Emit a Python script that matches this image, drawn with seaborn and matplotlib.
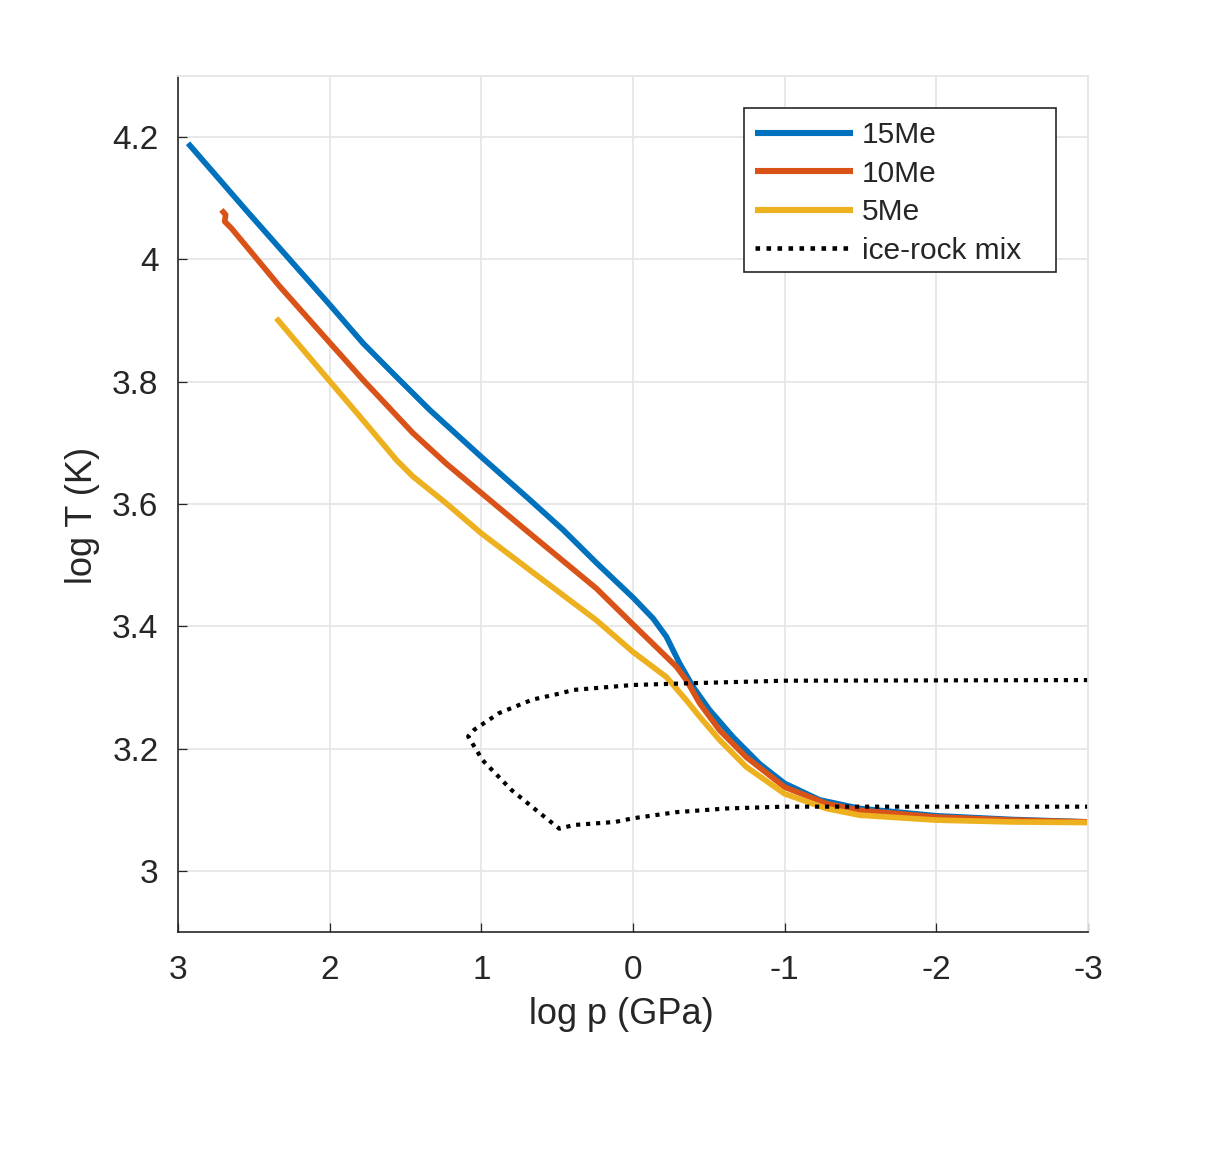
import numpy as np
import pandas as pd
import matplotlib
matplotlib.use('Agg')
import matplotlib.pyplot as plt
from matplotlib.patches import Rectangle
from matplotlib.ticker import FuncFormatter
import seaborn as sns

# curves (log p in GPa, log T in K)
p_15 = [2.934, 2.549, 2.0, 1.78, 1.56, 1.341, 1.0, 0.681, 0.462, 0.242, 0.0, -0.132,
        -0.22, -0.308, -0.396, -0.505, -0.659, -0.835, -1.0, -1.231, -1.495, -2.0,
        -2.5, -3.0]
T_15 = [4.190, 4.080, 3.926, 3.863, 3.808, 3.754, 3.677, 3.607, 3.558, 3.504, 3.447,
        3.413, 3.383, 3.339, 3.301, 3.263, 3.219, 3.175, 3.143, 3.116, 3.102, 3.090,
        3.084, 3.080]

p_10 = [2.714, 2.686, 2.692, 2.648, 2.33, 2.0, 1.78, 1.451, 1.231, 1.0, 0.681, 0.242,
        0.0, -0.22, -0.286, -0.352, -0.44, -0.571, -0.747, -1.0, -1.275, -1.495, -2.0,
        -2.5, -3.0]
T_10 = [4.081, 4.073, 4.062, 4.051, 3.956, 3.864, 3.803, 3.716, 3.666, 3.618, 3.552,
        3.462, 3.403, 3.350, 3.334, 3.312, 3.274, 3.230, 3.186, 3.137, 3.110, 3.099,
        3.088, 3.083, 3.080]

p_5 = [2.352, 2.0, 1.78, 1.56, 1.451, 1.231, 1.0, 0.681, 0.242, 0.0, -0.22, -0.352,
       -0.44, -0.571, -0.747, -1.0, -1.275, -1.495, -2.0, -2.5, -3.0]
T_5 = [3.904, 3.801, 3.737, 3.672, 3.645, 3.601, 3.552, 3.492, 3.410, 3.358, 3.317,
       3.279, 3.252, 3.214, 3.170, 3.126, 3.102, 3.091, 3.083, 3.080, 3.079]

p_mix = [-3.0, -1.0, -0.396, 0.0, 0.39, 0.484, 0.664, 0.883, 1.046, 1.087, 0.992,
         0.80, 0.637, 0.486, 0.39, 0.117, 0.0, -0.286, -0.615, -1.0, -3.0]
T_mix = [3.312, 3.311, 3.307, 3.304, 3.296, 3.290, 3.280, 3.258, 3.231, 3.220, 3.181,
         3.132, 3.099, 3.069, 3.075, 3.080, 3.086, 3.096, 3.102, 3.105, 3.105]

x_ticks = [3, 2, 1, 0, -1, -2, -3]
y_ticks = [3.0, 3.2, 3.4, 3.6, 3.8, 4.0, 4.2]

sns.set_style('whitegrid', {'grid.color': '#e6e6e6', 'axes.edgecolor': '#262626'})
plt.rcParams['font.family'] = ['Liberation Sans', 'DejaVu Sans']
plt.rcParams['axes.unicode_minus'] = False
plt.rcParams['text.color'] = '#262626'
plt.rcParams['axes.labelcolor'] = '#262626'
plt.rcParams['xtick.color'] = '#262626'
plt.rcParams['ytick.color'] = '#262626'

W, H = 1220, 1150
fig = plt.figure(figsize=(W / 100, H / 100), dpi=100)
ax = fig.add_axes([178 / W, 1 - 932 / H, 910 / W, 856 / H])

lw = 4.1
sns.lineplot(x=p_15, y=T_15, sort=False, estimator=None, color='#0072BD', lw=lw,
             label='15Me', ax=ax)
sns.lineplot(x=p_10, y=T_10, sort=False, estimator=None, color='#D95319', lw=lw,
             label='10Me', ax=ax)
sns.lineplot(x=p_5, y=T_5, sort=False, estimator=None, color='#EDB120', lw=lw,
             label='5Me', ax=ax)
sns.lineplot(x=p_mix, y=T_mix, sort=False, estimator=None, color='black', lw=3.0,
             linestyle=(0, (1, 1.4)), label='ice-rock mix', ax=ax)
for ln in ax.lines:
    ln.set_solid_capstyle('butt')
    ln.set_solid_joinstyle('round')
    ln.set_dash_capstyle('butt')

ax.set_xlim(3, -3)
ax.set_ylim(2.9, 4.3)
ax.set_xticks(x_ticks)
ax.set_yticks(y_ticks)
fmt = FuncFormatter(lambda v, pos: '%g' % v)
ax.xaxis.set_major_formatter(fmt)
ax.yaxis.set_major_formatter(fmt)
ax.grid(True, color='#e6e6e6', lw=1.3)
ax.tick_params(direction='in', length=6.5, width=0.9, labelsize=24,
               top=False, right=False, left=True, bottom=True)
ax.tick_params(axis='x', pad=16.5)
ax.tick_params(axis='y', pad=14)
for side in ['left', 'bottom']:
    ax.spines[side].set_color('#262626')
    ax.spines[side].set_linewidth(1.2)
for side in ['top', 'right']:
    ax.spines[side].set_color('#e6e6e6')
    ax.spines[side].set_linewidth(1.3)

ax.set_xlabel('log p (GPa)', fontsize=26)
ax.xaxis.set_label_coords((621 - 178) / 910, -(1015 - 932) / 856)
ax.xaxis.label.set_va('center')
ax.set_ylabel('log T (K)', fontsize=26)
ax.yaxis.set_label_coords((82 - 178) / 910, (932 - 515) / 856)
ax.yaxis.label.set_va('center')

# legend box drawn as a separate frame (MATLAB leaves extra room on the right)
ax.add_patch(Rectangle((744 / W, 1 - 272 / H), 312 / W, 164 / H,
                       transform=fig.transFigure, clip_on=False, facecolor='white',
                       edgecolor='#262626', lw=1.2, zorder=4))
leg = ax.legend(loc='upper left', bbox_to_anchor=(755 / W, 1 - 121 / H),
                bbox_transform=fig.transFigure, borderaxespad=0, fontsize=21.5,
                frameon=False, handlelength=3.28, handletextpad=0.3,
                labelspacing=0.355, borderpad=0)
leg.set_zorder(5)
for h in leg.get_lines():
    h.set_linewidth(4.4)
leg.get_lines()[3].set_linewidth(3.3)

fig.savefig('out.png', dpi=100, facecolor='white')
